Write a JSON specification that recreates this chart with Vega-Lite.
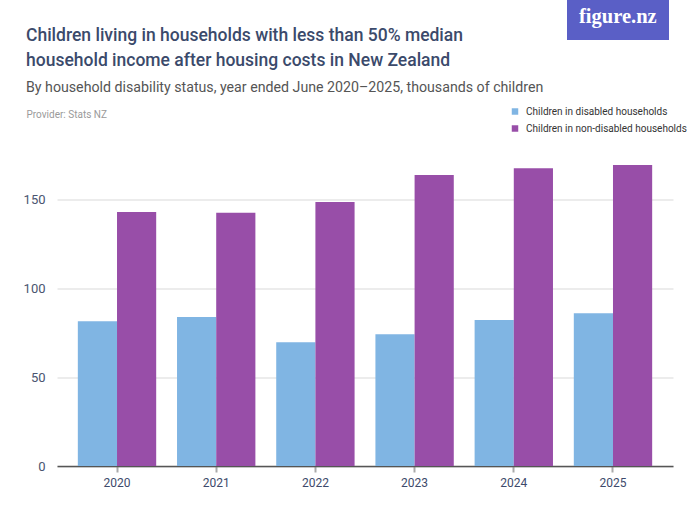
{
  "$schema": "https://vega.github.io/schema/vega-lite/v6.json",
  "width": 616,
  "height": 310.5,
  "autosize": {"type": "none"},
  "padding": {"left": 57, "top": 155.5, "right": 27, "bottom": 59},
  "background": "white",
  "title": {
    "text": ["Children living in households with less than 50% median", "household income after housing costs in New Zealand"],
    "subtitle": "By household disability status, year ended June 2020–2025, thousands of children",
    "anchor": "start",
    "frame": "group",
    "dx": -31,
    "dy": 114,
    "offset": 14,
    "font": "Roboto, sans-serif",
    "fontSize": 17.5,
    "fontWeight": 500,
    "lineHeight": 25,
    "color": "#3b4a6b",
    "subtitleFont": "Roboto, sans-serif",
    "subtitleFontSize": 14.2,
    "subtitleColor": "#555555",
    "subtitlePadding": 11
  },
  "data": {
    "values": [
      {"year": "2020", "group": "Children in disabled households", "value": 81.6, "source": "figure.nz"},
      {"year": "2020", "group": "Children in non-disabled households", "value": 143.2, "source": "figure.nz"},
      {"year": "2021", "group": "Children in disabled households", "value": 84.0, "source": "figure.nz"},
      {"year": "2021", "group": "Children in non-disabled households", "value": 142.8, "source": "figure.nz"},
      {"year": "2022", "group": "Children in disabled households", "value": 69.7, "source": "figure.nz"},
      {"year": "2022", "group": "Children in non-disabled households", "value": 148.8, "source": "figure.nz"},
      {"year": "2023", "group": "Children in disabled households", "value": 74.2, "source": "figure.nz"},
      {"year": "2023", "group": "Children in non-disabled households", "value": 164.0, "source": "figure.nz"},
      {"year": "2024", "group": "Children in disabled households", "value": 82.3, "source": "figure.nz"},
      {"year": "2024", "group": "Children in non-disabled households", "value": 167.8, "source": "figure.nz"},
      {"year": "2025", "group": "Children in disabled households", "value": 86.1, "source": "figure.nz"},
      {"year": "2025", "group": "Children in non-disabled households", "value": 169.7, "source": "figure.nz"}
    ]
  },
  "mark": {"type": "bar", "strokeWidth": 0},
  "encoding": {
    "x": {
      "field": "year",
      "type": "ordinal",
      "scale": {"paddingInner": 0.21, "paddingOuter": 0.21},
      "axis": {
        "title": null,
        "labelAngle": 0,
        "labelFont": "Roboto, sans-serif",
        "labelFontSize": 12,
        "labelColor": "#3d4a6b",
        "labelPadding": 5,
        "domainColor": "#555555",
        "domainWidth": 1.5,
        "tickColor": "#aaaaaa",
        "tickWidth": 2,
        "tickSize": 6,
        "grid": false
      }
    },
    "xOffset": {"field": "group", "type": "nominal", "scale": {"paddingInner": 0, "paddingOuter": 0}},
    "y": {
      "field": "value",
      "type": "quantitative",
      "scale": {"domain": [0, 175], "nice": false},
      "axis": {
        "title": "Provider: Stats NZ",
        "titleAngle": 0,
        "titleAlign": "left",
        "titleBaseline": "alphabetic",
        "titleX": -31,
        "titleY": -38,
        "titleFont": "Roboto, sans-serif",
        "titleFontSize": 10,
        "titleFontWeight": "normal",
        "titleColor": "#9a9a9a",
        "values": [0, 50, 100, 150],
        "labelFont": "Roboto, sans-serif",
        "labelFontSize": 13,
        "labelColor": "#4a5570",
        "labelPadding": 12,
        "domain": false,
        "ticks": false,
        "gridColor": "#e6e6e6",
        "gridWidth": 1.5
      }
    },
    "color": {
      "field": "group",
      "type": "nominal",
      "scale": {"range": ["#80b5e3", "#984ea8"]},
      "legend": {
        "title": null,
        "orient": "none",
        "legendX": 453,
        "legendY": -49,
        "symbolType": "square",
        "symbolSize": 42,
        "symbolStrokeWidth": 0,
        "labelFont": "Roboto, sans-serif",
        "labelFontSize": 10,
        "labelColor": "#333333",
        "labelLimit": 300,
        "rowPadding": 7,
        "labelOffset": 6
      }
    },
    "strokeDash": {
      "field": "source",
      "type": "nominal",
      "legend": {
        "title": "figure.nz",
        "orient": "none",
        "legendX": 510,
        "legendY": -160.5,
        "fillColor": "#5a5fc6",
        "padding": 12,
        "titleColor": "white",
        "titleFont": "'Liberation Serif', 'DejaVu Serif', serif",
        "titleFontSize": 20.5,
        "titleFontWeight": "bold",
        "titlePadding": 0,
        "symbolOpacity": 0,
        "symbolStrokeWidth": 0,
        "symbolSize": 0,
        "labelExpr": "''",
        "labelFontSize": 1
      }
    }
  },
  "config": {"view": {"stroke": null}}
}
